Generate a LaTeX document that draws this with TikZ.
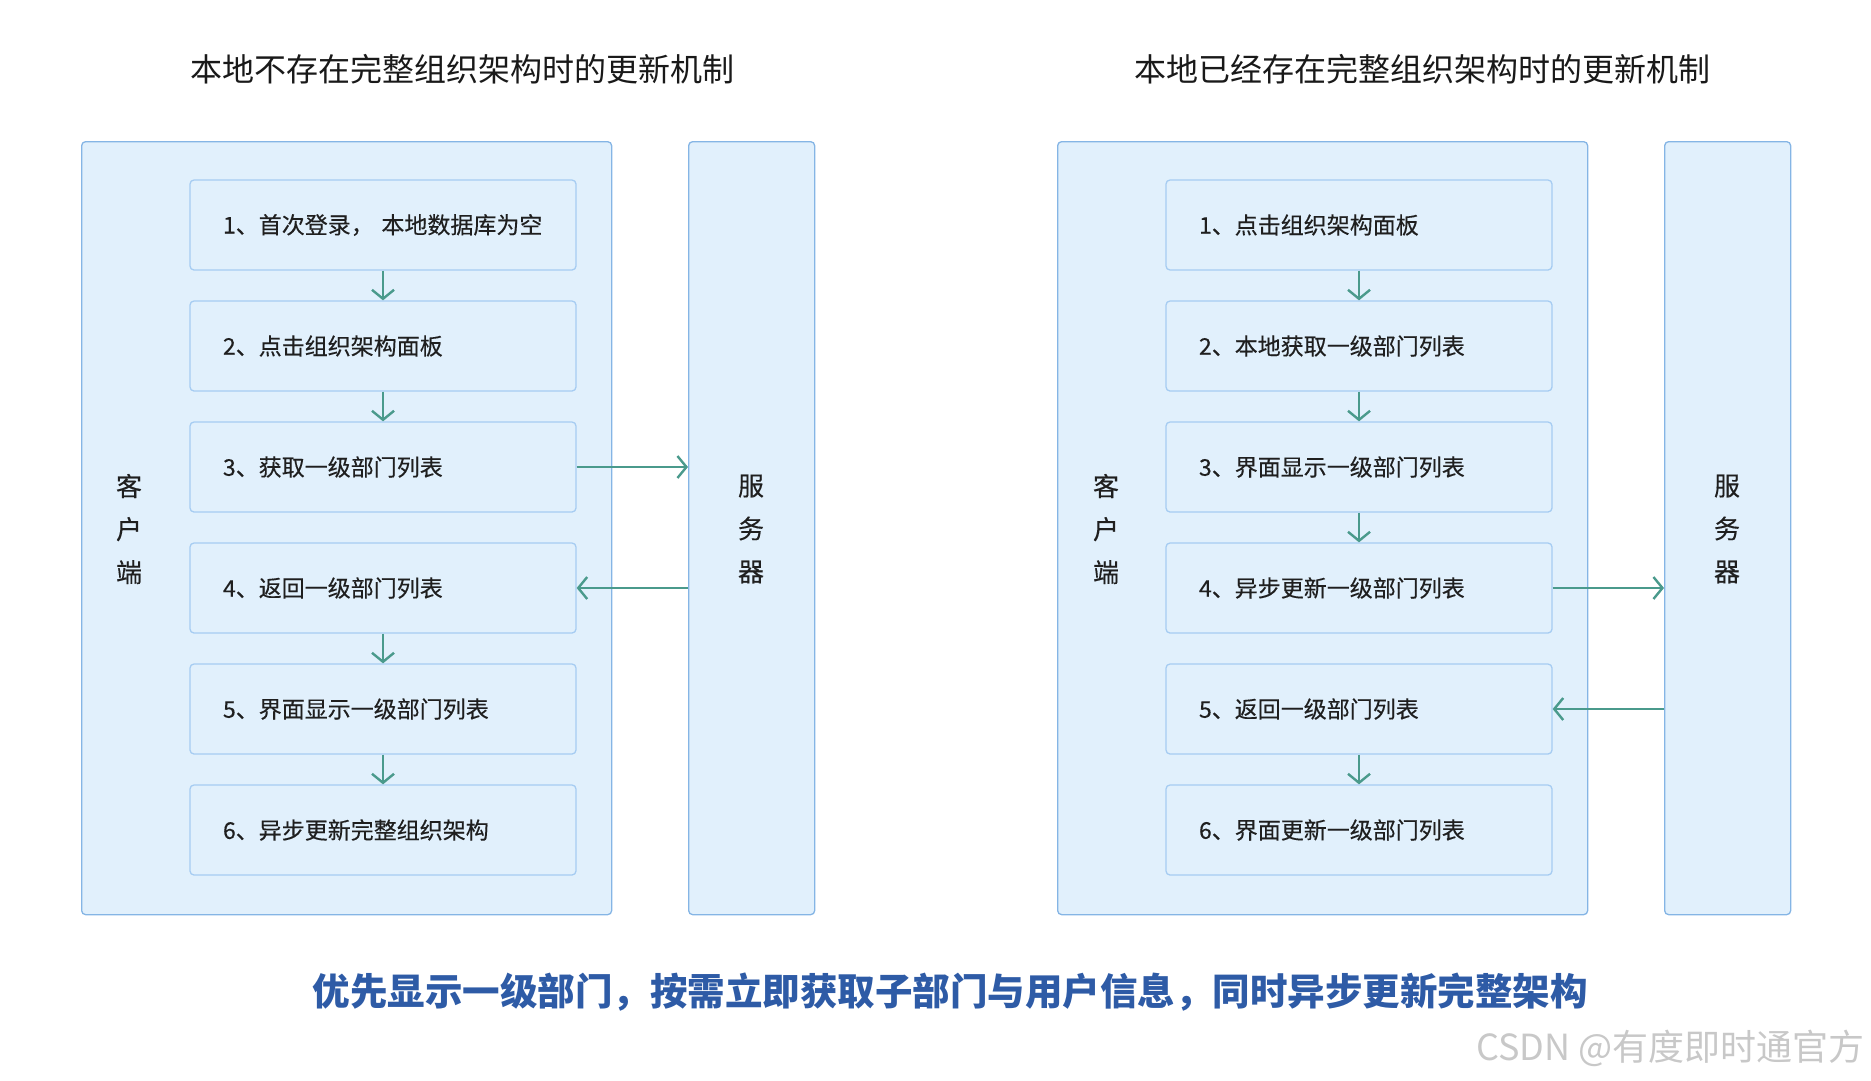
\documentclass[tikz,border=0pt]{standalone}
\usepackage{fontspec}
\setmainfont{Noto Sans CJK SC}
\usetikzlibrary{arrows.meta}

\definecolor{boxfill}{HTML}{E1F0FC}
\definecolor{outerline}{HTML}{85B5E5}
\definecolor{stepline}{HTML}{A6CCF2}
\definecolor{flow}{HTML}{4A9A8C}
\definecolor{note}{HTML}{2E5BA6}
\definecolor{mark}{HTML}{C8C8C8}

\tikzset{
  lane/.style={draw=outerline, fill=boxfill, line width=1.3pt, rounded corners=4pt,
    inner sep=0pt, anchor=north west},
  stepbox/.style={draw=stepline, fill=boxfill, line width=1.3pt, rounded corners=4pt,
    minimum height=90pt, text width=320pt, inner xsep=33pt, inner ysep=0pt, align=left,
    font=\fontsize{23}{27}\selectfont\addfontfeature{FakeBold=0.3}, text=black!88},
  sidelabel/.style={align=center, font=\fontsize{26}{43}\selectfont\addfontfeature{FakeBold=0.3},
    text=black!88},
  heading/.style={font=\fontsize{32}{36}\selectfont, text=black!90},
  flowarrow/.style={draw=flow, line width=2.4pt,
    -{Straight Barb[length=9pt,width=22pt,line width=2.4pt]}},
}

\begin{document}
\begin{tikzpicture}[x=1pt, y=-1pt]
\useasboundingbox (0,0) rectangle (1871,1080);

% ---------- left: no complete org tree stored locally ----------
\node[heading] (tL) at (462,69) {本地不存在完整组织架构时的更新机制};
\node[lane, minimum width=530pt, minimum height=773pt] (cL) at (81,141) {};
\node[lane, minimum width=126pt, minimum height=773pt] (sL) at (688,141) {};
\node[sidelabel] (cLt) at (129,529) {客\\户\\端};
\node[sidelabel] (sLt) at (751,529) {服\\务\\器};

\node[stepbox] (a1) at (383,225) {1、首次登录， 本地数据库为空};
\node[stepbox] (a2) at (383,346) {2、点击组织架构面板};
\node[stepbox] (a3) at (383,467) {3、获取一级部门列表};
\node[stepbox] (a4) at (383,588) {4、返回一级部门列表};
\node[stepbox] (a5) at (383,709) {5、界面显示一级部门列表};
\node[stepbox] (a6) at (383,830) {6、异步更新完整组织架构};

\draw[flowarrow] (a1.south) -- (a2.north);
\draw[flowarrow] (a2.south) -- (a3.north);
\draw[flowarrow] (a4.south) -- (a5.north);
\draw[flowarrow] (a5.south) -- (a6.north);
\draw[flowarrow] (a3.east) -- (sL.west |- a3.east);
\draw[flowarrow] (sL.west |- a4.east) -- (a4.east);

% ---------- right: complete org tree already stored locally ----------
\node[heading] (tR) at (1422,69) {本地已经存在完整组织架构时的更新机制};
\node[lane, minimum width=530pt, minimum height=773pt] (cR) at (1057,141) {};
\node[lane, minimum width=126pt, minimum height=773pt] (sR) at (1664,141) {};
\node[sidelabel] (cRt) at (1106,529) {客\\户\\端};
\node[sidelabel] (sRt) at (1727,529) {服\\务\\器};

\node[stepbox] (b1) at (1359,225) {1、点击组织架构面板};
\node[stepbox] (b2) at (1359,346) {2、本地获取一级部门列表};
\node[stepbox] (b3) at (1359,467) {3、界面显示一级部门列表};
\node[stepbox] (b4) at (1359,588) {4、异步更新一级部门列表};
\node[stepbox] (b5) at (1359,709) {5、返回一级部门列表};
\node[stepbox] (b6) at (1359,830) {6、界面更新一级部门列表};

\draw[flowarrow] (b1.south) -- (b2.north);
\draw[flowarrow] (b2.south) -- (b3.north);
\draw[flowarrow] (b3.south) -- (b4.north);
\draw[flowarrow] (b5.south) -- (b6.north);
\draw[flowarrow] (b4.east) -- (sR.west |- b4.east);
\draw[flowarrow] (sR.west |- b5.east) -- (b5.east);

% ---------- summary line and credit ----------
\node[font=\fontsize{37.5}{42}\selectfont\bfseries, text=note] (sum) at (950,992)
  {优先显示一级部门，按需立即获取子部门与用户信息，同时异步更新完整架构};
\node[font=\fontsize{36}{40}\selectfont, text=mark, anchor=east] (credit) at (1868,1048)
  {CSDN @有度即时通官方};
\end{tikzpicture}
\end{document}
